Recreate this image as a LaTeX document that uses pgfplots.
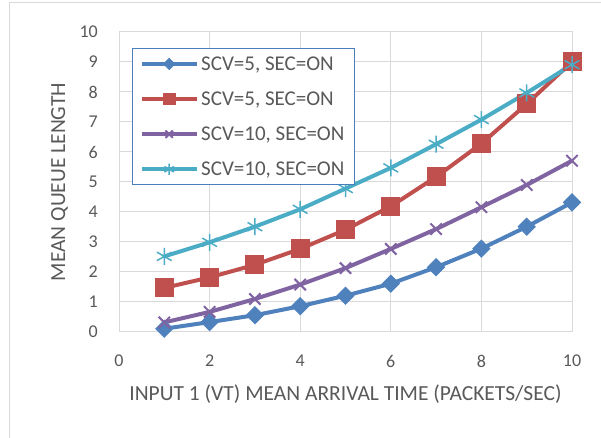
\documentclass[border=0pt]{standalone}
\usepackage{fontspec}
\setmainfont{Carlito}
\usepackage{pgfplots}
\pgfplotsset{compat=1.18}
\definecolor{sblue}{HTML}{4F81BD}
\definecolor{sred}{HTML}{C0504D}
\definecolor{spurple}{HTML}{8064A2}
\definecolor{scyan}{HTML}{4BACC6}
\definecolor{txtgray}{HTML}{595959}
\definecolor{gridgray}{HTML}{D9D9D9}
\definecolor{legblue}{HTML}{4A7EBB}
\begin{document}
\begin{tikzpicture}
\path[use as bounding box] (0bp,0bp) rectangle (601bp,438bp);
\draw[gridgray, line width=1bp] (9bp,-10bp) -- (9bp,435bp) -- (620bp,435bp);
\begin{axis}[
  at={(119bp,106bp)}, anchor=south west,
  scale only axis, width=453bp, height=300bp,
  xmin=0, xmax=10, ymin=0, ymax=10,
  xtick={0,2,...,10}, ytick={0,1,...,10},
  grid=major,
  major grid style={draw=gridgray, line width=1bp},
  axis line style={draw=gridgray, line width=1bp},
  major tick length=0pt,
  clip=false,
  /pgf/number format/assume math mode=true,
  tick label style={font=\fontsize{18bp}{20bp}\selectfont, text=txtgray},
  yticklabel style={anchor=east, inner sep=0pt, xshift=-21bp},
  xticklabel style={anchor=north, inner sep=0pt, yshift=-23bp},
  xlabel={INPUT 1 (VT) MEAN ARRIVAL TIME (PACKETS/SEC)},
  ylabel={MEAN QUEUE LENGTH},
  label style={font=\fontsize{21.5bp}{24bp}\selectfont, text=txtgray},
  xlabel style={at={(axis description cs:0.5,-0.229)}, anchor=base},
  ylabel style={at={(axis description cs:-0.119,0.5)}, anchor=base, rotate=0},
  legend style={at={(0.028,0.947)}, anchor=north west, draw=legblue,
    line width=1bp, fill=white, text=txtgray,
    font=\fontsize{21bp}{24bp}\selectfont, row sep=16bp,
    inner xsep=8bp, inner ysep=6bp},
  legend cell align=left,
  legend image code/.code={
    \draw[mark repeat=2, mark phase=2, #1, /tikz/every mark/.append style={scale=0.65}]
      plot coordinates {(0bp,0bp) (27bp,0bp) (55bp,0bp)};},
  every axis plot/.append style={line width=4bp},
]
\addplot[sblue, mark=square*, mark size=6bp,
  mark options={rotate=45, line width=1bp, fill=sblue}] coordinates {
  (1,0.11) (2,0.33) (3,0.56) (4,0.86) (5,1.21)
  (6,1.61) (7,2.16) (8,2.78) (9,3.51) (10,4.32)};
\addlegendentry{SCV=5, SEC=ON}
\addplot[sred, mark=square*, mark size=9bp,
  mark options={line width=1bp, fill=sred}] coordinates {
  (1,1.47) (2,1.82) (3,2.24) (4,2.77) (5,3.41)
  (6,4.19) (7,5.17) (8,6.28) (9,7.60) (10,9.01)};
\addlegendentry{SCV=5, SEC=ON}
\addplot[spurple, mark=x, mark size=8bp,
  mark options={line width=2bp}] coordinates {
  (1,0.32) (2,0.67) (3,1.10) (4,1.58) (5,2.13)
  (6,2.77) (7,3.43) (8,4.16) (9,4.90) (10,5.71)};
\addlegendentry{SCV=10, SEC=ON}
\addplot[scyan, mark=asterisk, mark size=8.5bp,
  mark options={line width=1.5bp}] coordinates {
  (1,2.52) (2,2.99) (3,3.51) (4,4.09) (5,4.78)
  (6,5.47) (7,6.26) (8,7.08) (9,7.97) (10,8.91)};
\addlegendentry{SCV=10, SEC=ON}
\end{axis}
\end{tikzpicture}
\end{document}
